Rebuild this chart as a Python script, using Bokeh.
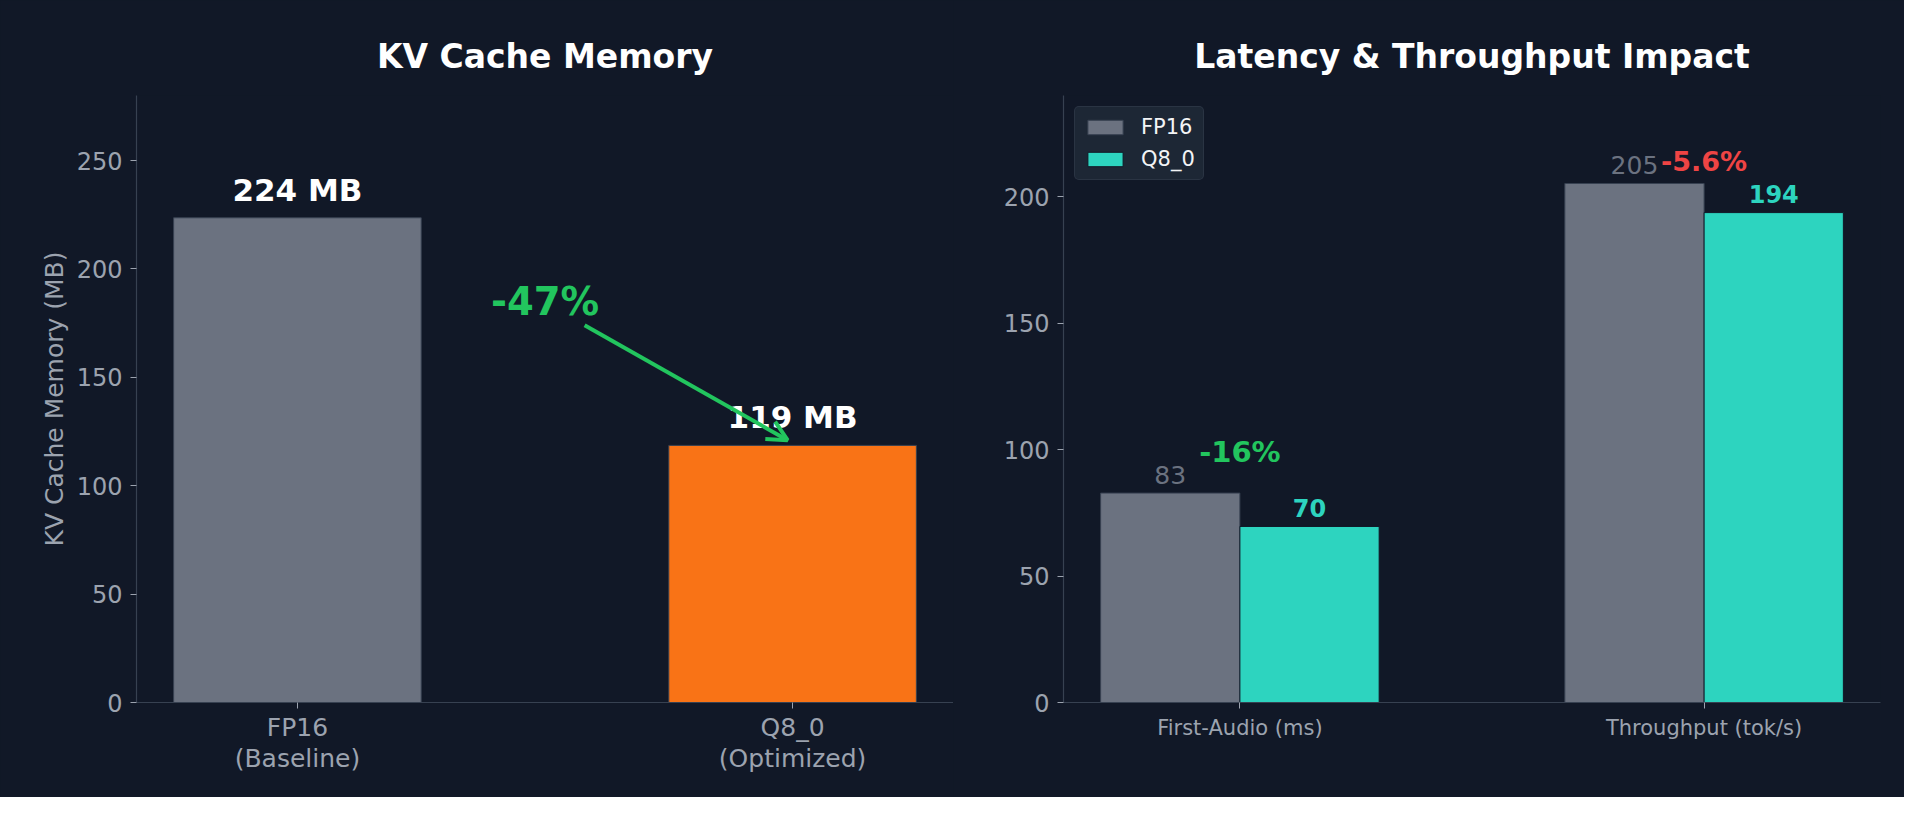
from bokeh.plotting import figure
from bokeh.layouts import row
from bokeh.models import ColumnDataSource, FixedTicker, Arrow, OpenHead, Range1d, Legend, LegendItem
from bokeh.core.properties import value
from bokeh.embed import file_html
from bokeh.resources import INLINE

# ---------------- data ----------------
mem_categories = ["FP16\n(Baseline)", "Q8_0\n(Optimized)"]
mem_values = [223.6, 118.6]
mem_colors = ["#6b7280", "#f97316"]

perf_categories = ["First-Audio (ms)", "Throughput (tok/s)"]
series_names = ["FP16", "Q8_0"]
fp16_values = [82.8, 205.2]
q8_values = [69.6, 193.7]
pct_formats = ["{:.0f}%", "{:.1f}%"]
pct_colors = ["#22c55e", "#ef4444"]

# annotation placements (data units)
mem_label_pad = 13
mem_pct_pos = (0.5, 185)
mem_arrow = (0.58, 174, 0.99, 121)
perf_label_pad = 7.2
perf_pct_y = [99, 214]

BG = "#111827"
FONT = "DejaVu Sans"
TICK_C = "#9ca3af"
SPINE_C = "#374151"
GREEN = "#22c55e"


def style(p):
    p.background_fill_color = BG
    p.border_fill_color = BG
    p.outline_line_color = None
    p.xgrid.grid_line_color = None
    p.ygrid.grid_line_color = None
    p.title.align = "center"
    p.title.text_color = "#ffffff"
    p.title.text_font = FONT
    p.title.text_font_style = "bold"
    p.title.text_font_size = "33px"
    p.title.standoff = 40
    for ax in p.axis:
        ax.axis_line_color = SPINE_C
        ax.axis_line_width = 1.2
        ax.major_tick_line_color = TICK_C
        ax.major_tick_out = 6
        ax.major_tick_in = 0
        ax.minor_tick_line_color = None
        ax.major_label_text_color = TICK_C
        ax.major_label_text_font = FONT
        ax.axis_label_text_color = TICK_C
        ax.axis_label_text_font = FONT
        ax.axis_label_text_font_style = "normal"


# ---------------- left chart ----------------
n = len(mem_values)
p1 = figure(width=953, height=797, output_backend="svg", toolbar_location=None,
            x_range=Range1d(-0.325, n - 1 + 0.325), y_range=Range1d(0, 280),
            title="KV Cache Memory",
            min_border_left=136, min_border_right=0, min_border_top=95, min_border_bottom=95)
style(p1)
src1 = ColumnDataSource(dict(x=list(range(n)), top=mem_values, color=mem_colors,
                             label=[f"{v:.0f} MB" for v in mem_values],
                             ly=[v + mem_label_pad for v in mem_values]))
p1.vbar(x="x", top="top", width=0.5, bottom=0, fill_color="color", line_color=SPINE_C,
        line_width=1, source=src1)
p1.text(x="x", y="ly", text="label", source=src1, text_align="center", text_baseline="alphabetic",
        text_font=value(FONT), text_font_style="bold", text_font_size="31px", text_color="#ffffff")
red = (mem_values[1] - mem_values[0]) / mem_values[0] * 100
p1.text(x=[mem_pct_pos[0]], y=[mem_pct_pos[1]], text=[f"{red:.0f}%"], text_align="center",
        text_baseline="alphabetic", text_font=value(FONT), text_font_style="bold",
        text_font_size="38.5px", text_color=GREEN)
p1.add_layout(Arrow(end=OpenHead(line_color=GREEN, line_width=4, size=20),
                    x_start=mem_arrow[0], y_start=mem_arrow[1], x_end=mem_arrow[2], y_end=mem_arrow[3],
                    line_color=GREEN, line_width=4))
p1.xaxis.ticker = FixedTicker(ticks=list(range(n)))
p1.xaxis.major_label_overrides = {i: c for i, c in enumerate(mem_categories)}
p1.xaxis.major_label_text_font_size = "25px"
p1.xaxis.major_label_text_line_height = 1.07
p1.xaxis.major_label_standoff = 4
p1.yaxis.ticker = FixedTicker(ticks=[0, 50, 100, 150, 200, 250])
p1.yaxis.major_label_text_font_size = "24px"
p1.yaxis.axis_label = "KV Cache Memory (MB)"
p1.yaxis.axis_label_text_font_size = "25px"
p1.yaxis.axis_label_standoff = 5
p1.yaxis.major_label_standoff = 8

# ---------------- right chart ----------------
m = len(perf_categories)
p2 = figure(width=951, height=797, output_backend="svg", toolbar_location=None,
            x_range=Range1d(-0.38, m - 1 + 0.38), y_range=Range1d(0, 240),
            title="Latency & Throughput Impact",
            min_border_left=110, min_border_right=24, min_border_top=95, min_border_bottom=95)
style(p2)
xs = list(range(m))
src_a = ColumnDataSource(dict(x=[x - 0.15 for x in xs], top=fp16_values,
                              label=[f"{v:.0f}" for v in fp16_values],
                              ly=[v + perf_label_pad for v in fp16_values]))
src_b = ColumnDataSource(dict(x=[x + 0.15 for x in xs], top=q8_values,
                              label=[f"{v:.0f}" for v in q8_values],
                              ly=[v + perf_label_pad for v in q8_values]))
ra = p2.vbar(x="x", top="top", width=0.3, bottom=0, fill_color="#6b7280", line_color=SPINE_C,
             line_width=1, source=src_a)
rb = p2.vbar(x="x", top="top", width=0.3, bottom=0, fill_color="#2dd4bf", line_color=BG,
             line_width=1, source=src_b)
p2.text(x="x", y="ly", text="label", source=src_a, text_align="center", text_baseline="alphabetic",
        text_font=value(FONT), text_font_size="25px", text_color="#6b7280")
p2.text(x="x", y="ly", text="label", source=src_b, text_align="center", text_baseline="alphabetic",
        text_font=value(FONT), text_font_style="bold", text_font_size="24px", text_color="#2dd4bf")
pct_labels = [fmt.format((q - f) / f * 100) for fmt, f, q in zip(pct_formats, fp16_values, q8_values)]
src_p = ColumnDataSource(dict(x=xs, y=perf_pct_y, text=pct_labels, color=pct_colors,
                              size=["29px", "27px"]))
p2.text(x="x", y="y", text="text", source=src_p, text_align="center", text_baseline="alphabetic",
        text_font=value(FONT), text_font_style="bold", text_font_size="size", text_color="color")

legend = Legend(items=[LegendItem(label=series_names[0], renderers=[ra]),
                       LegendItem(label=series_names[1], renderers=[rb])],
                location="top_left")
legend.background_fill_color = "#1f2937"
legend.background_fill_alpha = 0.9
legend.border_line_color = SPINE_C
legend.border_line_width = 1
legend.border_radius = 5
legend.label_text_color = "#f3f4f6"
legend.label_text_font = FONT
legend.label_text_font_size = "21px"
legend.glyph_width = 44
legend.glyph_height = 18
legend.label_standoff = 14
legend.padding = 8
legend.spacing = 8
legend.margin = 11
p2.add_layout(legend)

p2.xaxis.ticker = FixedTicker(ticks=xs)
p2.xaxis.major_label_overrides = {i: c for i, c in enumerate(perf_categories)}
p2.xaxis.major_label_text_font_size = "21px"
p2.xaxis.major_label_standoff = 7
p2.yaxis.ticker = FixedTicker(ticks=[0, 50, 100, 150, 200])
p2.yaxis.major_label_text_font_size = "24px"
p2.yaxis.major_label_standoff = 8

layout = row(p1, p2)
layout.spacing = 0
layout.styles = {"background-color": BG}

html = file_html(layout, INLINE)
html = html.replace("<body>", f'<body style="background-color:{BG};">', 1)
open("out.html", "w").write(html)
